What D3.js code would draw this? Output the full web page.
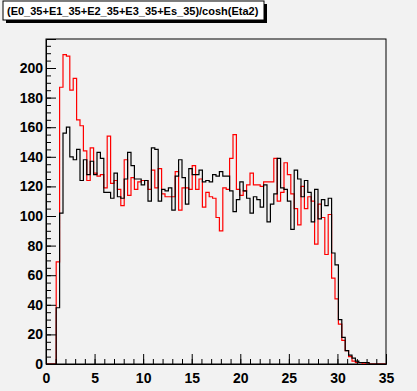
<!DOCTYPE html>
<html>
<head>
<meta charset="utf-8">
<script src="https://cdn.jsdelivr.net/npm/d3@7"></script>
<style>
  html, body { margin: 0; padding: 0; background: #f2f2f2; }
  svg { display: block; }
  text { font-family: "Liberation Sans", Arial, Helvetica, sans-serif; font-weight: bold; }
</style>
</head>
<body>
<svg id="chart" width="417" height="391"></svg>
<script>
// ---- data ----
const title = "(E0_35+E1_35+E2_35+E3_35+Es_35)/cosh(Eta2)";
const xDomain = [0, 35];
const yMax = 219.6;
const binWidth = 0.35;
const xTickLabels = [0, 5, 10, 15, 20, 25, 30, 35];
const yTickLabels = [0, 20, 40, 60, 80, 100, 120, 140, 160, 180, 200];

// black histogram (100 bins, width 0.35)
const blackValues = [
  0, 0, 0, 38, 102, 156, 160, 140, 138, 145,
  124, 138, 128, 137, 128, 143, 139, 116, 116, 112,
  129, 113, 112, 125, 143, 134, 125, 125, 121, 124,
  110, 146, 145, 110, 118, 117, 119, 104, 127, 138,
  126, 108, 132, 128, 128, 131, 123, 124, 123, 128,
  127, 130, 127, 127, 117, 103, 111, 123, 117, 112,
  102, 113, 111, 106, 121, 96, 108, 115, 139, 119,
  118, 110, 91, 131, 125, 113, 124, 116, 96, 118,
  98, 111, 107, 112, 75, 67, 30, 18, 9, 6,
  4, 2, 1, 1, 1, 0, 0, 0, 0, 0
];
// red histogram
const redValues = [
  0, 0, 0, 69, 187, 209, 208, 185, 193, 165,
  161, 144, 124, 146, 129, 127, 128, 119, 154, 122,
  124, 118, 107, 138, 114, 126, 118, 123, 124, 124,
  118, 131, 119, 132, 115, 113, 113, 113, 130, 104,
  119, 119, 118, 134, 118, 125, 106, 116, 113, 112,
  99, 90, 119, 118, 139, 155, 118, 114, 117, 121,
  129, 121, 121, 120, 123, 123, 123, 139, 110, 116,
  136, 128, 115, 105, 94, 120, 105, 113, 110, 81,
  108, 99, 74, 101, 58, 44, 27, 16, 9, 5,
  2, 1, 1, 0, 1, 0, 0, 0, 0, 0
];

// ---- layout ----
const svg = d3.select("#chart");
const frame = { left: 46, right: 386, top: 39, bottom: 364 };
const x = d3.scaleLinear().domain(xDomain).range([frame.left, frame.right]);
const y = d3.scaleLinear().domain([0, yMax]).range([frame.bottom, frame.top]);

// background
svg.append("rect").attr("x", 0).attr("y", 0).attr("width", 417).attr("height", 391).attr("fill", "#f2f2f2");

// frame border
svg.append("rect")
  .attr("x", frame.left).attr("y", frame.top)
  .attr("width", frame.right - frame.left).attr("height", frame.bottom - frame.top)
  .attr("fill", "none").attr("stroke", "#000").attr("stroke-width", 1);

function histPoints(vals) {
  const pts = vals.map((v, i) => [i * binWidth, v]);
  pts.push([vals.length * binWidth, vals[vals.length - 1]]);
  return pts;
}
const line = d3.line()
  .x(d => x(d[0]))
  .y(d => y(d[1]))
  .curve(d3.curveStepAfter);

svg.append("path").datum(histPoints(redValues))
  .attr("d", line).attr("fill", "none").attr("stroke", "#ff0000").attr("stroke-width", 1.2);
svg.append("path").datum(histPoints(blackValues))
  .attr("d", line).attr("fill", "none").attr("stroke", "#000000").attr("stroke-width", 1.2);

// axes
const xMinor = d3.range(0, 36, 1);
svg.append("g").attr("transform", `translate(0,${frame.bottom})`)
  .call(d3.axisBottom(x).tickValues(xMinor).tickSize(-5).tickFormat(""))
  .call(g => g.select(".domain").remove());
const xAxis = svg.append("g").attr("transform", `translate(0,${frame.bottom})`)
  .call(d3.axisBottom(x).tickValues(xTickLabels).tickSize(-10).tickPadding(9).tickFormat(d3.format("d")));
xAxis.selectAll("text").attr("font-size", 14).attr("fill", "#000")
  .style("font-family", "'Liberation Sans', Arial, sans-serif").style("font-weight", "bold");

const yMinor = d3.range(0, 220, 5);
svg.append("g").attr("transform", `translate(${frame.left},0)`)
  .call(d3.axisLeft(y).tickValues(yMinor).tickSize(-5).tickFormat(""))
  .call(g => g.select(".domain").remove());
const yAxis = svg.append("g").attr("transform", `translate(${frame.left},0)`)
  .call(d3.axisLeft(y).tickValues(yTickLabels).tickSize(-10).tickPadding(3).tickFormat(d3.format("d")));
yAxis.selectAll("text").attr("font-size", 14).attr("fill", "#000")
  .style("font-family", "'Liberation Sans', Arial, sans-serif").style("font-weight", "bold");
svg.selectAll(".domain").attr("stroke", "#000");
svg.selectAll(".tick line").attr("stroke", "#000");

// title box with shadow
const tb = { x: 3, y: 1, w: 261, h: 19 };
svg.append("rect").attr("x", tb.x + 3).attr("y", tb.y + 3).attr("width", tb.w).attr("height", tb.h).attr("fill", "#000");
svg.append("rect").attr("x", tb.x).attr("y", tb.y).attr("width", tb.w).attr("height", tb.h)
  .attr("fill", "#fff").attr("stroke", "#000").attr("stroke-width", 1);
svg.append("text").attr("x", tb.x + 4).attr("y", tb.y + 14)
  .attr("font-size", 11).attr("fill", "#000").text(title);
</script>
</body>
</html>
